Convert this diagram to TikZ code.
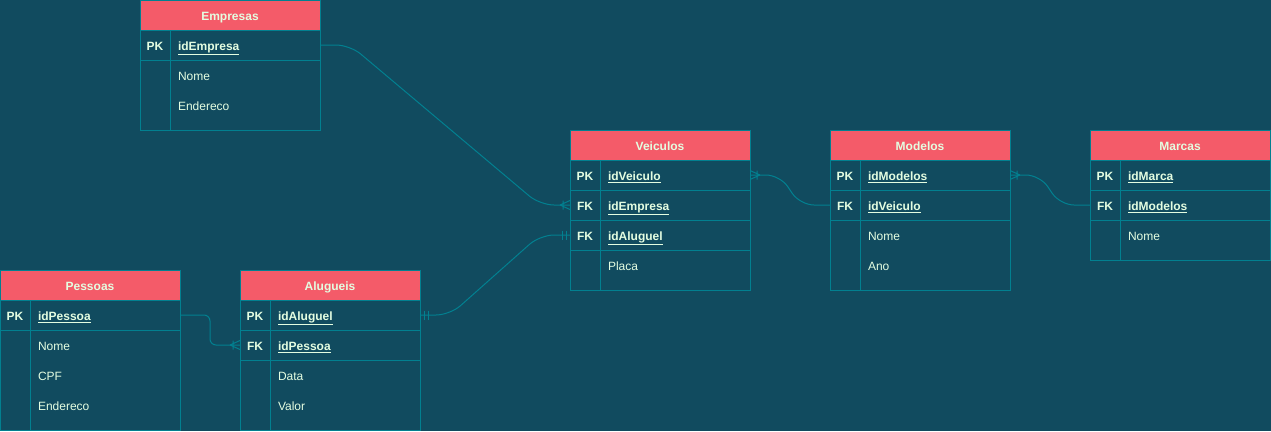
\documentclass[tikz,border=0pt]{standalone}
\usepackage{fontspec}
\setmainfont{Liberation Sans}
\usetikzlibrary{calc}
\definecolor{bgc}{HTML}{114B5F}
\definecolor{linec}{HTML}{028090}
\definecolor{hdrc}{HTML}{F45B69}
\definecolor{txtc}{HTML}{E4FDE1}
\begin{document}
\begin{tikzpicture}[x=1pt,y=-1pt,
  every node/.style={inner sep=0pt, outer sep=0pt, text=txtc, text height=11.5pt, text depth=0pt, font=\fontsize{12}{14}\selectfont},
  hdr/.style={draw=linec, line width=1pt, fill=hdrc, minimum width=180pt, minimum height=30pt, anchor=north west, font=\fontsize{12}{14}\selectfont\bfseries},
  keyc/.style={draw=linec, line width=1pt, minimum width=30pt, minimum height=#1, anchor=north west, font=\fontsize{12}{14}\selectfont\bfseries},
  keyc/.default=30pt,
  attrc/.style={draw=linec, line width=1pt, text width=134pt, inner xsep=8pt, minimum height=#1, align=left, anchor=north west},
  attrc/.default=30pt,
  keyt/.style={font=\fontsize{12}{14}\selectfont\bfseries},
  fld/.style={anchor=west},
  conn/.style={draw=linec, line width=1pt},
  crow/.pic={\draw[conn] (0,-4.5) -- (10,0) (0,4.5) -- (10,0) (7,-4.5) -- (7,4.5);},
  mand/.pic={\draw[conn] (4,-4.5) -- (4,4.5) (8,-4.5) -- (8,4.5);}
]
\useasboundingbox (0,0) rectangle (1271,431);
\fill[bgc] (0,0) rectangle (1271,431);

% Empresas
\node[hdr] (empH) at (140,0) {Empresas};
\node[keyc] (empK1) at (140,30) {PK};
\node[attrc,keyt] (empA1) at (170,30) {\underline{idEmpresa}};
\node[keyc=70pt] (empK2) at (140,60) {};
\node[attrc=70pt] (empA2) at (170,60) {};
\node[fld] (empF1) at (178,75) {Nome};
\node[fld] (empF2) at (178,105) {Endereco};

% Veiculos
\node[hdr] (veiH) at (570,130) {Veiculos};
\node[keyc] (veiK1) at (570,160) {PK};
\node[attrc,keyt] (veiA1) at (600,160) {\underline{idVeiculo}};
\node[keyc] (veiK2) at (570,190) {FK};
\node[attrc,keyt] (veiA2) at (600,190) {\underline{idEmpresa}};
\node[keyc] (veiK3) at (570,220) {FK};
\node[attrc,keyt] (veiA3) at (600,220) {\underline{idAluguel}};
\node[keyc=40pt] (veiK4) at (570,250) {};
\node[attrc=40pt] (veiA4) at (600,250) {};
\node[fld] (veiF1) at (608,265) {Placa};

% Modelos
\node[hdr] (modH) at (830,130) {Modelos};
\node[keyc] (modK1) at (830,160) {PK};
\node[attrc,keyt] (modA1) at (860,160) {\underline{idModelos}};
\node[keyc] (modK2) at (830,190) {FK};
\node[attrc,keyt] (modA2) at (860,190) {\underline{idVeiculo}};
\node[keyc=70pt] (modK3) at (830,220) {};
\node[attrc=70pt] (modA3) at (860,220) {};
\node[fld] (modF1) at (868,235) {Nome};
\node[fld] (modF2) at (868,265) {Ano};

% Marcas
\node[hdr] (marH) at (1090,130) {Marcas};
\node[keyc] (marK1) at (1090,160) {PK};
\node[attrc,keyt] (marA1) at (1120,160) {\underline{idMarca}};
\node[keyc] (marK2) at (1090,190) {FK};
\node[attrc,keyt] (marA2) at (1120,190) {\underline{idModelos}};
\node[keyc=40pt] (marK3) at (1090,220) {};
\node[attrc=40pt] (marA3) at (1120,220) {};
\node[fld] (marF1) at (1128,235) {Nome};

% Pessoas
\node[hdr] (pesH) at (0,270) {Pessoas};
\node[keyc] (pesK1) at (0,300) {PK};
\node[attrc,keyt] (pesA1) at (30,300) {\underline{idPessoa}};
\node[keyc=100pt] (pesK2) at (0,330) {};
\node[attrc=100pt] (pesA2) at (30,330) {};
\node[fld] (pesF1) at (38,345) {Nome};
\node[fld] (pesF2) at (38,375) {CPF};
\node[fld] (pesF3) at (38,405) {Endereco};

% Alugueis
\node[hdr] (aluH) at (240,270) {Alugueis};
\node[keyc] (aluK1) at (240,300) {PK};
\node[attrc,keyt] (aluA1) at (270,300) {\underline{idAluguel}};
\node[keyc] (aluK2) at (240,330) {FK};
\node[attrc,keyt] (aluA2) at (270,330) {\underline{idPessoa}};
\node[keyc=70pt] (aluK3) at (240,360) {};
\node[attrc=70pt] (aluA3) at (270,360) {};
\node[fld] (aluF1) at (278,375) {Data};
\node[fld] (aluF2) at (278,405) {Valor};

% Connectors
\draw[conn, rounded corners=14pt] (empA1.east) -- ++(30,0) -- ($(veiK2.west)+(-30,0)$) -- (veiK2.west);
\draw[conn, rounded corners=14pt] (aluA1.east) -- ++(30,0) -- ($(veiK3.west)+(-30,0)$) -- (veiK3.west);
\draw[conn, rounded corners=14pt] (veiA1.east) -- ++(30,0) -- ($(modK2.west)+(-30,0)$) -- (modK2.west);
\draw[conn, rounded corners=14pt] (modA1.east) -- ++(30,0) -- ($(marK2.west)+(-30,0)$) -- (marK2.west);
\draw[conn, rounded corners=6pt] (pesA1.east) -- ++(30,0) -- ($(aluK2.west)+(-30,0)$) -- (aluK2.west);

% Markers
\pic[xscale=-1] at (veiK2.west) {crow};
\pic at (veiA1.east) {crow};
\pic at (modA1.east) {crow};
\pic[xscale=-1] at (aluK2.west) {crow};
\pic at (aluA1.east) {mand};
\pic[xscale=-1] at (veiK3.west) {mand};
\end{tikzpicture}
\end{document}
